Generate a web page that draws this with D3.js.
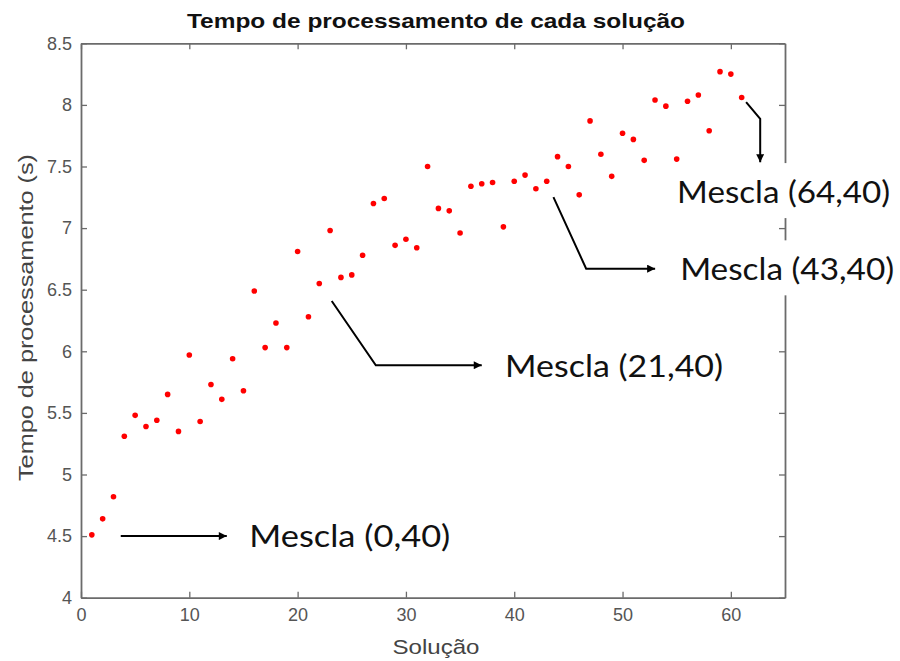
<!DOCTYPE html>
<html>
<head>
<meta charset="utf-8">
<script src="https://cdn.jsdelivr.net/npm/d3@7"></script>
<style>
  html, body { margin: 0; padding: 0; background: #fff; }
  svg { display: block; }
</style>
</head>
<body>
<svg id="chart" width="900" height="661"></svg>
<script>
// ---------------- DATA ----------------
const solucao = [1,2,3,4,5,6,7,8,9,10,11,12,13,14,15,16,17,18,19,20,
  21,22,23,24,25,26,27,28,29,30,31,32,33,34,35,36,37,38,39,40,
  41,42,43,44,45,46,47,48,49,50,51,52,53,54,55,56,57,58,59,60,61];
const tempo = [4.51,4.64,4.82,5.31,5.48,5.39,5.44,5.65,5.35,5.97,
  5.43,5.73,5.61,5.94,5.68,6.49,6.03,6.23,6.03,6.81,
  6.28,6.55,6.98,6.60,6.62,6.78,7.20,7.24,6.86,6.91,
  6.84,7.50,7.16,7.14,6.96,7.34,7.36,7.37,7.01,7.38,
  7.43,7.32,7.38,7.58,7.50,7.27,7.87,7.60,7.42,7.77,
  7.72,7.55,8.04,7.99,7.56,8.03,8.08,7.79,8.27,8.25,8.06];
const xTicks = [0,10,20,30,40,50,60];
const yTicks = [4,4.5,5,5.5,6,6.5,7,7.5,8,8.5];
const title = "Tempo de processamento de cada solução";
const xLabel = "Solução";
const yLabel = "Tempo de processamento (s)";
// annotation labels and their arrow paths, in data units
const annotLabels = ["Mescla (0,40)", "Mescla (21,40)", "Mescla (43,40)", "Mescla (64,40)"];
const annotTextPos = [[15.54,4.413],[39.16,5.792],[55.32,6.576],[55.04,7.203]];
const annotTextWidth = [201, 218, 214, 213];
const annotPaths = [
  [[3.67,4.50],[13.46,4.50]],
  [[23.15,6.408],[27.22,5.887],[37.0,5.887]],
  [[43.62,7.251],[46.64,6.671],[53.01,6.671]],
  [[61.41,8.022],[62.71,7.887],[62.71,7.535]]
];

// ---------------- LAYOUT ----------------
const svg = d3.select("#chart");
const L = 81, R = 785, T = 43.3, B = 597.7;
const x = d3.scaleLinear().domain([0,65]).range([L,R]);
const y = d3.scaleLinear().domain([4,8.5]).range([B,T]);
const axisColor = "#6b6b6b";
const tickColor = "#555";
const fmt = d => (Number.isInteger(d) ? d3.format("d")(d) : d3.format(".1f")(d));

function styleAxis(g, showLabels) {
  g.select(".domain").attr("stroke", axisColor).attr("stroke-width", 1.8);
  g.selectAll(".tick line").attr("stroke", axisColor).attr("stroke-width", 1.3);
  g.selectAll(".tick text")
    .attr("fill", tickColor)
    .attr("font-family", "Liberation Sans, Arial, sans-serif")
    .attr("font-size", 18)
    .attr("transform", "scale(0.92,1.08)")
    .style("display", showLabels ? null : "none");
}

// bottom
svg.append("g").attr("transform", `translate(0,${B})`)
  .call(d3.axisBottom(x).tickValues(xTicks).tickSizeInner(-6).tickSizeOuter(0).tickPadding(11).tickFormat(fmt))
  .call(g => styleAxis(g, true));
// top
svg.append("g").attr("transform", `translate(0,${T})`)
  .call(d3.axisTop(x).tickValues(xTicks).tickSizeInner(-6).tickSizeOuter(0))
  .call(g => styleAxis(g, false));
// left
svg.append("g").attr("transform", `translate(${L},0)`)
  .call(d3.axisLeft(y).tickValues(yTicks).tickSizeInner(-6).tickSizeOuter(0).tickPadding(9).tickFormat(fmt))
  .call(g => styleAxis(g, true));
// right
svg.append("g").attr("transform", `translate(${R},0)`)
  .call(d3.axisRight(y).tickValues(yTicks).tickSizeInner(-6).tickSizeOuter(0))
  .call(g => styleAxis(g, false));

// fix the scale transform so that label positions stay put
svg.selectAll(".tick text").each(function() {
  const t = d3.select(this);
  const tx = +t.attr("x") || 0, ty = +t.attr("y") || 0;
  t.attr("transform", null);
});

// points
svg.append("g").selectAll("circle")
  .data(solucao.map((s,i) => [s, tempo[i]]))
  .join("circle")
  .attr("cx", d => x(d[0]))
  .attr("cy", d => y(d[1]))
  .attr("r", 2.8)
  .attr("fill", "#ff0000");

// title
svg.append("text")
  .attr("x", (L+R)/2 + 3).attr("y", 28)
  .attr("text-anchor", "middle")
  .attr("font-family", "Liberation Sans, Arial, sans-serif")
  .attr("font-weight", "bold")
  .attr("font-size", 21)
  .attr("textLength", 498).attr("lengthAdjust", "spacingAndGlyphs")
  .attr("fill", "#111")
  .text(title);

// x label
svg.append("text")
  .attr("x", 436).attr("y", 654)
  .attr("text-anchor", "middle")
  .attr("font-family", "Liberation Sans, Arial, sans-serif")
  .attr("font-size", 21)
  .attr("textLength", 87).attr("lengthAdjust", "spacingAndGlyphs")
  .attr("fill", "#444")
  .text(xLabel);

// y label
svg.append("text")
  .attr("transform", `translate(33,${(T+B)/2 - 3}) rotate(-90)`)
  .attr("text-anchor", "middle")
  .attr("font-family", "Liberation Sans, Arial, sans-serif")
  .attr("font-size", 21)
  .attr("textLength", 327).attr("lengthAdjust", "spacingAndGlyphs")
  .attr("fill", "#444")
  .text(yLabel);

// arrow marker
svg.append("defs").append("marker")
  .attr("id", "arrow")
  .attr("viewBox", "0 0 10 10")
  .attr("refX", 10).attr("refY", 5)
  .attr("markerWidth", 6).attr("markerHeight", 4)
  .attr("markerUnits", "strokeWidth")
  .attr("orient", "auto")
  .append("path").attr("d", "M0,0 L10,5 L0,10 Z").attr("fill", "#000");

const line = d3.line().x(d => x(d[0])).y(d => y(d[1]));
const ann = svg.append("g");
annotPaths.forEach(p => {
  ann.append("path")
    .attr("d", line(p))
    .attr("fill", "none")
    .attr("stroke", "#000")
    .attr("stroke-width", 2)
    .attr("marker-end", "url(#arrow)");
});

annotLabels.forEach((lab, i) => {
  const tx = x(annotTextPos[i][0]), ty = y(annotTextPos[i][1]);
  ann.append("rect")
    .attr("x", tx - 8).attr("y", ty - 40)
    .attr("width", annotTextWidth[i] + 14).attr("height", 55)
    .attr("fill", "#fff");
  ann.append("text")
    .attr("x", tx).attr("y", ty)
    .attr("font-family", "Lato, 'Open Sans', sans-serif")
    .attr("font-size", 31)
    .attr("fill", "#111")
    .attr("textLength", annotTextWidth[i]).attr("lengthAdjust", "spacingAndGlyphs")
    .text(lab);
});
</script>
</body>
</html>
